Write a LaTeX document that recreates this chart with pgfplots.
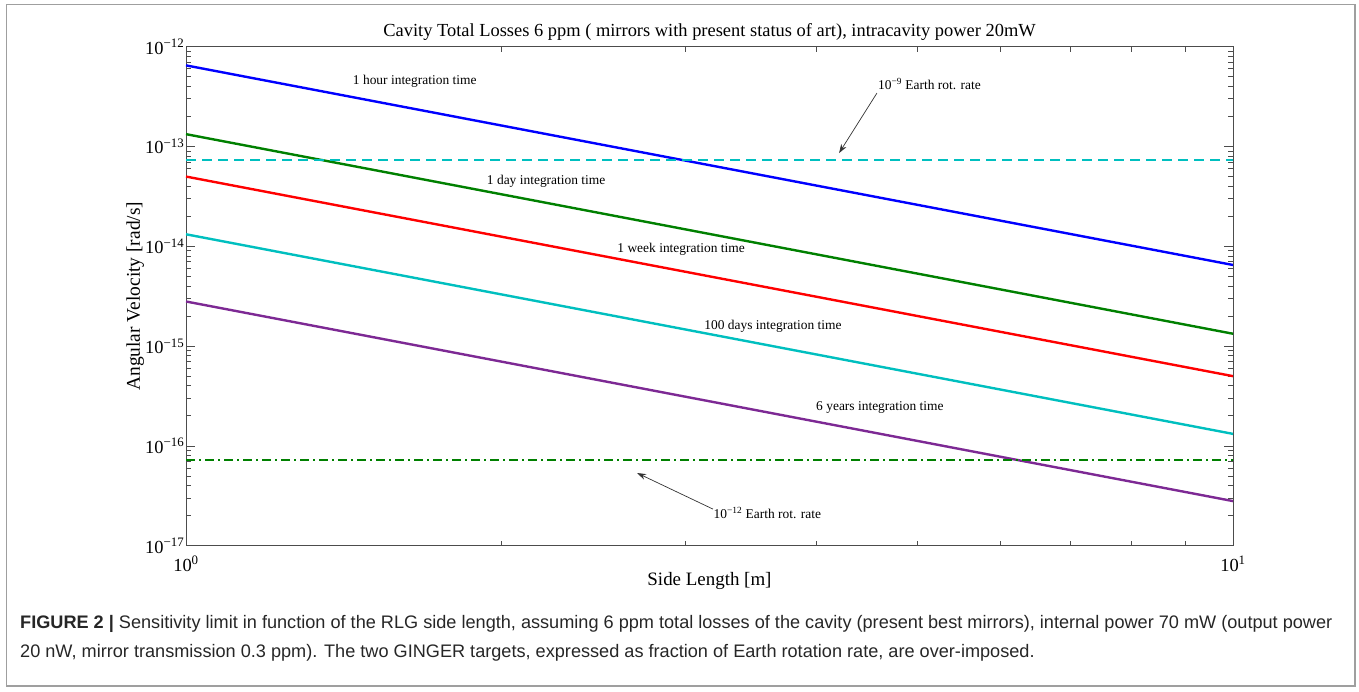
\documentclass[border=0pt]{standalone}
\usepackage{fontspec}
\setmainfont{Liberation Serif}
\newfontfamily\capfont{Liberation Sans}
\usepackage{pgfplots}
\pgfplotsset{compat=1.18}
\usetikzlibrary{arrows.meta}
\definecolor{mblue}{rgb}{0,0,1}
\definecolor{mgreen}{rgb}{0,0.5,0}
\definecolor{mred}{rgb}{1,0,0}
\definecolor{mcyan}{rgb}{0,0.75,0.75}
\definecolor{mpurple}{rgb}{0.49,0.16,0.58}
\definecolor{axgray}{gray}{0.3}
\begin{document}
\begin{tikzpicture}[x=1bp,y=1bp]
\path (0,0) rectangle (1359,691);
\draw[gray!75, line width=1.6bp] (6.5,5) rectangle (1355,686.5);
\begin{axis}[
  at={(186bp,145.3bp)}, anchor=south west,
  scale only axis, width=1047bp, height=499bp,
  xmode=log, ymode=log,
  xmin=1, xmax=10, ymin=1e-17, ymax=1e-12,
  axis line style={axgray, line width=0.9bp},
  tick style={axgray, line width=0.8bp},
  tick align=inside,
  major tick length=9bp, minor tick length=5bp,
  xtick={1,10}, xticklabels={10\textsuperscript{0},10\textsuperscript{1}},
  minor xtick={2,3,4,5,6,7,8,9},
  ytick={1e-17,1e-16,1e-15,1e-14,1e-13,1e-12},
  yticklabels={10\textsuperscript{−17},10\textsuperscript{−16},10\textsuperscript{−15},10\textsuperscript{−14},10\textsuperscript{−13},10\textsuperscript{−12}},
  ticklabel style={font=\fontsize{18.5}{20}\selectfont},
  yticklabel style={inner xsep=1.5bp},
  xticklabel style={yshift=-7bp},
  title={Cavity Total Losses 6 ppm ( mirrors with present status of art), intracavity power 20mW},
  title style={font=\fontsize{18.5}{21}\selectfont, yshift=-3bp},
  xlabel={Side Length [m]},
  ylabel={Angular Velocity [rad/s]},
  xlabel style={font=\fontsize{19}{22}\selectfont, yshift=6bp},
  ylabel style={font=\fontsize{19.5}{22}\selectfont, yshift=-4bp},
  clip=false,
]
\addplot[mblue, line width=2.4bp] coordinates {(1,6.5e-13) (10,6.5e-15)};
\addplot[mgreen, line width=2.4bp] coordinates {(1,1.33e-13) (10,1.33e-15)};
\addplot[mred, line width=2.4bp] coordinates {(1,5.0e-14) (10,5.0e-16)};
\addplot[mcyan, line width=2.4bp] coordinates {(1,1.32e-14) (10,1.32e-16)};
\addplot[mpurple, line width=2.4bp] coordinates {(1,2.8e-15) (10,2.8e-17)};
\addplot[mcyan, line width=2.2bp, dash pattern=on 10bp off 6bp] coordinates {(1,7.29e-14) (10,7.29e-14)};
\addplot[mgreen, line width=2.2bp, dash pattern=on 9bp off 4bp on 2bp off 4bp] coordinates {(1,7.29e-17) (10,7.29e-17)};
\begin{scope}[every node/.style={font=\fontsize{13.5}{15}\selectfont, inner sep=0pt}]
\node at (axis cs:1.654,4.53e-13) {1 hour integration time};
\node at (axis cs:2.208,4.51e-14) {1 day integration time};
\node at (axis cs:2.971,9.4e-15) {1 week integration time};
\node at (axis cs:3.636,1.59e-15) {100 days integration time};
\node at (axis cs:4.60,2.45e-16) {6 years integration time};
\node[anchor=west] at (axis cs:4.58,4.22e-13) {10\textsuperscript{−9} Earth rot. rate};
\node[anchor=west] at (axis cs:3.19,2.13e-17) {10\textsuperscript{−12} Earth rot. rate};
\end{scope}
\draw[black!80, line width=0.7bp, -{Stealth[length=9bp,width=6bp]}] (axis cs:4.57,3.43e-13) -- (axis cs:4.205,8.59e-14);
\draw[black!80, line width=0.7bp, -{Stealth[length=9bp,width=6bp]}] (axis cs:3.186,2.33e-17) -- (axis cs:2.697,5.35e-17);
\end{axis}
\begin{scope}[every node/.style={inner sep=0pt, anchor=base west, text=black!85, font=\capfont\fontsize{18.2}{21}\selectfont}]
\node at (20,62) {\textbf{FIGURE 2 |} Sensitivity limit in function of the RLG side length, assuming 6 ppm total losses of the cavity (present best mirrors), internal power 70 mW (output power};
\node at (20,33) {20 nW, mirror transmission 0.3 ppm). The two GINGER targets, expressed as fraction of Earth rotation rate, are over-imposed.};
\end{scope}
\end{tikzpicture}
\end{document}
